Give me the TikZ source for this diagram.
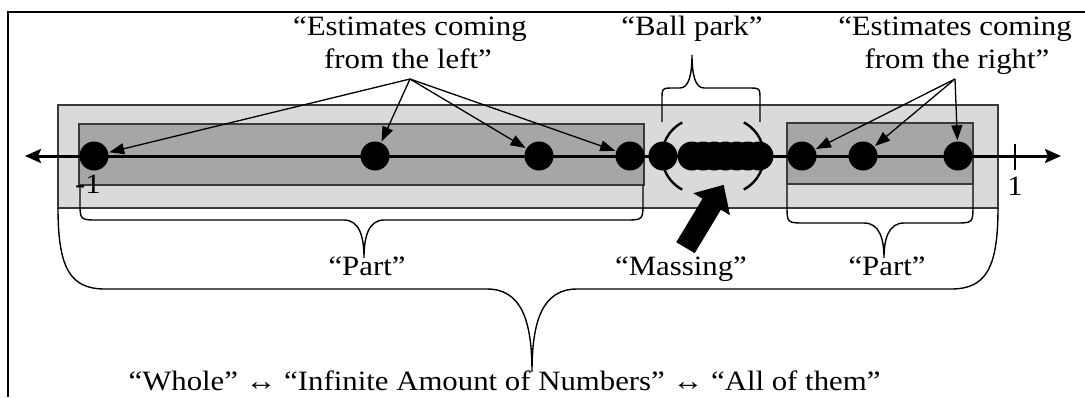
\documentclass[tikz,border=0pt]{standalone}
\usepackage{fontspec}
\setmainfont{Liberation Serif}[FakeStretch=1.1]
\usetikzlibrary{arrows.meta}
\definecolor{lightfill}{HTML}{DADADA}
\definecolor{darkfill}{HTML}{A6A6A6}
\definecolor{edge}{HTML}{3A3A3A}
\tikzset{
  lbl/.style={font=\fontsize{28}{33}\selectfont, inner sep=0pt, anchor=base},
  dot/.style={circle, fill=black, inner sep=0pt, minimum size=29pt},
  outerbox/.style={fill=lightfill, draw=edge, line width=1.2pt},
  innerbox/.style={fill=darkfill, draw=edge, line width=1.2pt},
  brace/.style={draw=black, line width=1.4pt},
  paren/.style={draw=black, line width=2.4pt},
  pointer/.style={draw=black, line width=1.3pt, -{Triangle[length=15pt,width=11pt]}, shorten >=1pt},
  numline/.style={draw=black, line width=3pt, {Stealth[length=16pt,width=14pt,inset=3pt]}-{Stealth[length=16pt,width=14pt,inset=3pt]}},
  frame/.style={draw=black, line width=1.6pt}
}
\begin{document}
\begin{tikzpicture}[x=1pt,y=-1pt]
\useasboundingbox (0,0) rectangle (1085,397);
% frame
\draw[frame] (8,397) -- (8,12) -- (1085,12);
% boxes
\path[outerbox] (58,105) rectangle (998,208);
\path[innerbox] (79,124) rectangle (644,185);
\path[innerbox] (787,123) rectangle (973,184);
% braces
\draw[brace] (80,185) -- (80,202) .. controls (80,220) .. (98,220) -- (344,220)
  .. controls (360,220) and (364,238) .. (364,258)
  .. controls (364,238) and (368,220) .. (384,220) -- (625,220)
  .. controls (643,220) .. (643,202) -- (643,185);
\draw[brace] (787,185) -- (787,205) .. controls (787,223) .. (805,223) -- (864,223)
  .. controls (880,223) and (884,240) .. (884,258)
  .. controls (884,240) and (888,223) .. (904,223) -- (955,223)
  .. controls (973,223) .. (973,205) -- (973,185);
\draw[brace] (58,208) .. controls (58,268) and (70,289) .. (105,289) -- (487,289)
  .. controls (522,289) and (532,322) .. (532,372)
  .. controls (532,322) and (542,289) .. (577,289) -- (951,289)
  .. controls (986,289) and (998,268) .. (998,208);
\draw[brace] (662,122) -- (662,100) .. controls (662,88) .. (674,88) -- (680,88)
  .. controls (689,88) and (692,74) .. (692,55)
  .. controls (692,74) and (695,88) .. (704,88) -- (748,88)
  .. controls (760,88) .. (760,100) -- (760,122);
% number line
\coordinate (lt) at (25,156);
\coordinate (rt) at (1061,156);
\draw[numline] (lt) -- (rt);
\coordinate (tk1) at (1015,144);
\coordinate (tk2) at (1015,170);
\draw[line width=1.5pt] (tk1) -- (tk2);
\node[lbl] (one) at (1015,195) {1};
\node[lbl] (mone) at (88,193) {-1};
% parentheses
\draw[paren] (700,156) ++(118:38) arc[start angle=118, end angle=242, radius=38];
\draw[paren] (726,156) ++(-62:38) arc[start angle=-62, end angle=62, radius=38];
% dots
\node[dot] (d1) at (94,156) {};
\node[dot] (d2) at (375,156) {};
\node[dot] (d3) at (539,156) {};
\node[dot] (d4) at (630,156) {};
\node[dot] (e1) at (663,156) {};
\foreach \i/\x in {1/692,2/703.2,3/714.3,4/725.5,5/736.7,6/747.8,7/759}
  \node[dot] (m\i) at (\x,156) {};
\node[dot] (r1) at (802,156) {};
\node[dot] (r2) at (863,156) {};
\node[dot] (r3) at (958,156) {};
% labels
\node[lbl] (la) at (410,35.7) {“Estimates coming};
\node[lbl] (lb) at (408,68.3) {from the left”};
\node[lbl] (ra) at (955,35.7) {“Estimates coming};
\node[lbl] (rb) at (957,68.3) {from the right”};
\node[lbl] (bp) at (692,35.7) {“Ball park”};
\node[lbl] (pl) at (367,275) {“Part”};
\node[lbl] (pr) at (887,275) {“Part”};
\node[lbl] (ms) at (681,275) {“Massing”};
\node[lbl] (wh) at (504.5,390.7) {“Whole” ↔ “Infinite Amount of Numbers” ↔ “All of them”};
% pointers
\coordinate (lo) at (410,79);
\coordinate (ro) at (955,79);
\foreach \d in {d1,d2,d3,d4} \draw[pointer] (lo) -- (\d);
\foreach \d in {r1,r2,r3} \draw[pointer] (ro) -- (\d);
% massing arrow
\fill[black] (676.3,242.2) -- (694.7,253.2) -- (720.9,209.7) -- (730.0,215.2)
  -- (723.7,184.9) -- (693.4,193.2) -- (702.5,198.7) -- cycle;
\end{tikzpicture}
\end{document}
